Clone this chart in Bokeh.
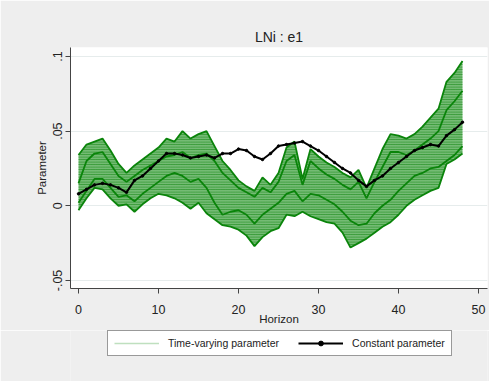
from bokeh.plotting import figure
from bokeh.layouts import column
from bokeh.models import Range1d, Legend, LegendItem, FixedTicker, ColumnDataSource
from bokeh.embed import file_html
from bokeh.resources import INLINE

# ---------------- data ----------------
horizon = list(range(49))

constant_param = [0.008, 0.011, 0.014, 0.015, 0.014, 0.012, 0.009, 0.017, 0.020, 0.025,
                  0.030, 0.035, 0.035, 0.034, 0.032, 0.033, 0.034, 0.032, 0.035, 0.035,
                  0.038, 0.037, 0.033, 0.031, 0.035, 0.040, 0.041, 0.042, 0.043, 0.040,
                  0.037, 0.033, 0.029, 0.025, 0.022, 0.017, 0.013, 0.017, 0.020, 0.025,
                  0.029, 0.033, 0.037, 0.039, 0.041, 0.040, 0.047, 0.051, 0.056]

tv_upper = [0.034, 0.041, 0.043, 0.045, 0.037, 0.028, 0.022, 0.027, 0.031, 0.035,
            0.039, 0.045, 0.043, 0.050, 0.045, 0.048, 0.050, 0.040, 0.030, 0.024,
            0.017, 0.013, 0.010, 0.019, 0.014, 0.022, 0.039, 0.043, 0.018, 0.038,
            0.033, 0.029, 0.026, 0.022, 0.019, 0.024, 0.012, 0.025, 0.038, 0.048,
            0.047, 0.045, 0.048, 0.053, 0.059, 0.065, 0.083, 0.089, 0.097]

tv_lower = [-0.003, 0.005, 0.012, 0.011, 0.005, 0.000, 0.001, -0.004, 0.001, 0.005,
            0.008, 0.007, 0.005, 0.002, -0.002, 0.002, -0.005, -0.009, -0.013, -0.014,
            -0.016, -0.020, -0.027, -0.021, -0.017, -0.015, -0.006, -0.007, -0.004, -0.007,
            -0.009, -0.011, -0.012, -0.018, -0.028, -0.025, -0.022, -0.018, -0.014, -0.011,
            -0.006, 0.000, 0.004, 0.007, 0.010, 0.012, 0.028, 0.031, 0.035]

tv_mid_high = [0.015, 0.030, 0.035, 0.036, 0.028, 0.020, 0.016, 0.020, 0.024, 0.027,
               0.030, 0.033, 0.034, 0.036, 0.032, 0.034, 0.035, 0.030, 0.022, 0.017,
               0.012, 0.009, 0.006, 0.012, 0.009, 0.016, 0.030, 0.034, 0.014, 0.030,
               0.025, 0.021, 0.018, 0.014, 0.011, 0.016, 0.005, 0.016, 0.026, 0.036,
               0.036, 0.034, 0.037, 0.041, 0.045, 0.050, 0.064, 0.070, 0.077]

tv_mid_low = [0.002, 0.010, 0.018, 0.018, 0.012, 0.006, 0.007, 0.003, 0.008, 0.012,
              0.016, 0.020, 0.022, 0.020, 0.016, 0.018, 0.012, 0.002, -0.006, -0.004,
              -0.003, -0.006, -0.012, -0.006, -0.002, 0.002, 0.008, 0.010, 0.003, 0.008,
              0.007, 0.004, 0.001, -0.004, -0.010, -0.013, -0.012, -0.005, 0.000, 0.004,
              0.010, 0.015, 0.020, 0.022, 0.025, 0.026, 0.030, 0.034, 0.040]

x_ticks = [0, 10, 20, 30, 40, 50]
y_ticks = [-0.05, 0.0, 0.05, 0.1]
y_tick_labels = ["-.05", "0", ".05", ".1"]

title_text = "LNi : e1"
x_label = "Horizon"
y_label = "Parameter"
legend_labels = ["Time-varying parameter", "Constant parameter"]

# ---------------- styling ----------------
FONT = "Liberation Sans"
BG = "#eeeeee"
DARK_GREEN = "#0a840a"
BAND_GREEN = "#74bb74"
HATCH_GREEN = "#1b8c1b"
PALE_GREEN = "#bfe0bf"

# ---------------- main figure ----------------
p = figure(width=489, height=330,
           x_range=Range1d(-1, 51.125), y_range=Range1d(-0.0554, 0.1060),
           output_backend="svg", toolbar_location=None,
           min_border_left=70, min_border_right=2, min_border_top=47, min_border_bottom=42,
           background_fill_color="white", border_fill_color=BG,
           outline_line_color=None)

p.title.text = title_text
p.title.align = "center"
p.title.text_font = FONT
p.title.text_font_size = "14px"
p.title.text_font_style = "normal"
p.title.text_color = "#222222"
p.title.standoff = 6

src = ColumnDataSource(dict(h=horizon, c=constant_param, up=tv_upper, lo=tv_lower,
                            mh=tv_mid_high, ml=tv_mid_low))

p.varea(x="h", y1="lo", y2="up", source=src, fill_color=BAND_GREEN, fill_alpha=1.0,
        hatch_pattern="horizontal_line", hatch_color=HATCH_GREEN,
        hatch_scale=2.5, hatch_weight=0.7)
for col in ["up", "lo", "mh", "ml"]:
    p.line("h", col, source=src, line_color=DARK_GREEN, line_width=1.8)

p.line("h", "c", source=src, line_color="black", line_width=2)
p.scatter("h", "c", source=src, size=2.5, fill_color="black", line_color="black")

p.xaxis.ticker = FixedTicker(ticks=x_ticks)
p.yaxis.ticker = FixedTicker(ticks=y_ticks)
p.yaxis.major_label_overrides = {t: l for t, l in zip(y_ticks, y_tick_labels)}
p.yaxis.major_label_orientation = "vertical"
for ax in (p.xaxis, p.yaxis):
    ax.axis_line_color = "#444444"
    ax.major_tick_line_color = "#444444"
    ax.major_tick_in = 0
    ax.major_tick_out = 5
    ax.minor_tick_line_color = None
    ax.major_label_text_font = FONT
    ax.major_label_text_font_size = "12.5px"
    ax.major_label_text_color = "#222222"
    ax.axis_label_text_font = FONT
    ax.axis_label_text_font_size = "11.5px"
    ax.axis_label_text_font_style = "normal"
    ax.axis_label_text_color = "#222222"
p.xaxis.axis_label = x_label
p.yaxis.axis_label = y_label
p.xaxis.major_label_standoff = 11
p.xaxis.axis_label_standoff = -4
p.yaxis.major_label_standoff = 3
p.yaxis.axis_label_standoff = 3

p.xgrid.grid_line_color = None
p.ygrid.grid_line_color = "#e6ecec"
p.ygrid.grid_line_width = 1

# ---------------- legend strip (frame aligned with the main plot) ----------------
lg = figure(width=489, height=51, x_range=Range1d(0, 1), y_range=Range1d(0, 1),
            output_backend="svg", toolbar_location=None,
            x_axis_type=None, y_axis_type=None,
            min_border_left=70, min_border_right=2, min_border_top=0, min_border_bottom=0,
            background_fill_color=BG, border_fill_color=BG, outline_line_color=None)
lg.xgrid.visible = False
lg.ygrid.visible = False
hidden = ColumnDataSource(dict(x=[-10.0], y=[-10.0]))
r_tv = lg.line("x", "y", source=hidden, line_color=PALE_GREEN, line_width=1.5)
r_cl = lg.line("x", "y", source=hidden, line_color="black", line_width=2)
r_cs = lg.scatter("x", "y", source=hidden, size=2.5, fill_color="black", line_color="black")

legend = Legend(items=[LegendItem(label=legend_labels[0], renderers=[r_tv]),
                       LegendItem(label=legend_labels[1], renderers=[r_cl, r_cs])],
                orientation="horizontal", location=(37, 25))
legend.border_line_color = "#333333"
legend.border_line_width = 1
legend.background_fill_color = "white"
legend.background_fill_alpha = 1
legend.label_text_font = FONT
legend.label_text_font_size = "10.5px"
legend.label_text_color = "#222222"
legend.glyph_width = 45
legend.glyph_height = 12
legend.label_standoff = 9
legend.spacing = 19
legend.padding = 6
legend.margin = 0
lg.add_layout(legend, "center")

layout = column(p, lg, spacing=0)
open("out.html", "w").write(file_html(layout, INLINE))
